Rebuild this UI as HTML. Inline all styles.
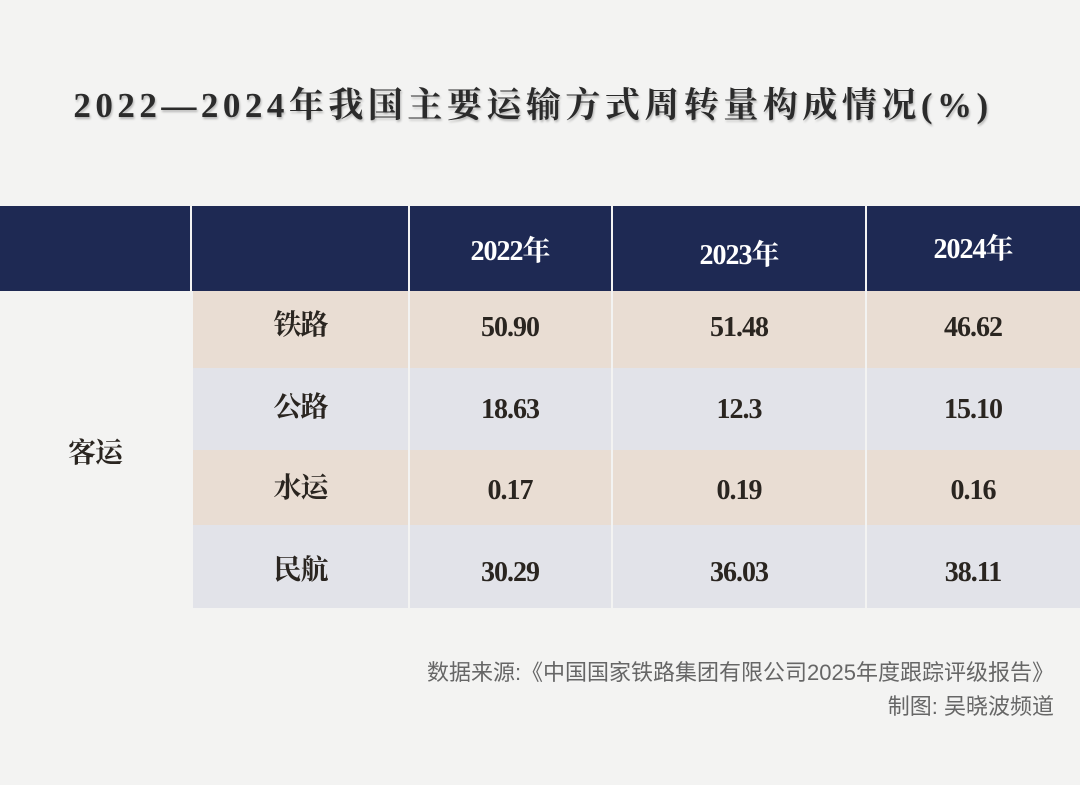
<!DOCTYPE html>
<html><head><meta charset="utf-8"><style>
body{margin:0;width:1080px;height:785px;background:#f3f3f2;position:relative;overflow:hidden;font-family:"Liberation Serif","Noto Serif CJK SC",serif;}
.a{position:absolute;}
.t{position:absolute;text-align:center;color:#2a2520;font-size:28px;letter-spacing:-1px;line-height:1;font-weight:bold;}
.h{color:#fff;font-size:28px;}
.r{position:absolute;left:193px;width:887px;}
.v{position:absolute;top:206px;width:2px;height:402px;background:#f3f3f2;}
</style></head><body>
<div class="a" style="left:0;width:1066px;top:86px;text-align:center;font-size:35px;font-weight:bold;color:#2b2b2b;letter-spacing:4.5px;text-shadow:1px 2px 2px rgba(0,0,0,.25);line-height:40px">2022—2024年我国主要运输方式周转量构成情况(%)</div>
<div class="a" style="left:0;top:206px;width:1080px;height:85px;background:#1e2953"></div>
<div class="r" style="top:291px;height:77px;background:#e9ddd3"></div>
<div class="r" style="top:368px;height:82px;background:#e2e3e9"></div>
<div class="r" style="top:450px;height:75px;background:#e9ddd3"></div>
<div class="r" style="top:525px;height:83px;background:#e2e3e9"></div>
<div class="v" style="left:190px"></div>
<div class="v" style="left:408px"></div>
<div class="v" style="left:611px"></div>
<div class="v" style="left:865px"></div>
<div class="t h" style="left:408px;width:204px;top:238px">2022年</div>
<div class="t h" style="left:612px;width:254px;top:242px">2023年</div>
<div class="t h" style="left:866px;width:214px;top:236px">2024年</div>
<div class="t" style="left:193px;width:215px;top:312px">铁路</div>
<div class="t" style="left:193px;width:215px;top:394px">公路</div>
<div class="t" style="left:193px;width:215px;top:475px">水运</div>
<div class="t" style="left:193px;width:215px;top:557px">民航</div>
<div class="t" style="left:40px;width:110px;top:440px">客运</div>
<div class="t" style="left:408px;width:204px;top:314px">50.90</div>
<div class="t" style="left:612px;width:254px;top:314px">51.48</div>
<div class="t" style="left:866px;width:214px;top:314px">46.62</div>
<div class="t" style="left:408px;width:204px;top:396px">18.63</div>
<div class="t" style="left:612px;width:254px;top:396px">12.3</div>
<div class="t" style="left:866px;width:214px;top:396px">15.10</div>
<div class="t" style="left:408px;width:204px;top:477px">0.17</div>
<div class="t" style="left:612px;width:254px;top:477px">0.19</div>
<div class="t" style="left:866px;width:214px;top:477px">0.16</div>
<div class="t" style="left:408px;width:204px;top:559px">30.29</div>
<div class="t" style="left:612px;width:254px;top:559px">36.03</div>
<div class="t" style="left:866px;width:214px;top:559px">38.11</div>
<div class="a" style="right:26px;top:656px;font-family:'Liberation Sans','Noto Sans CJK SC',sans-serif;font-size:22px;color:#666;text-align:right;line-height:34px">数据来源:《中国国家铁路集团有限公司2025年度跟踪评级报告》<br>制图: 吴晓波频道</div>
</body></html>
